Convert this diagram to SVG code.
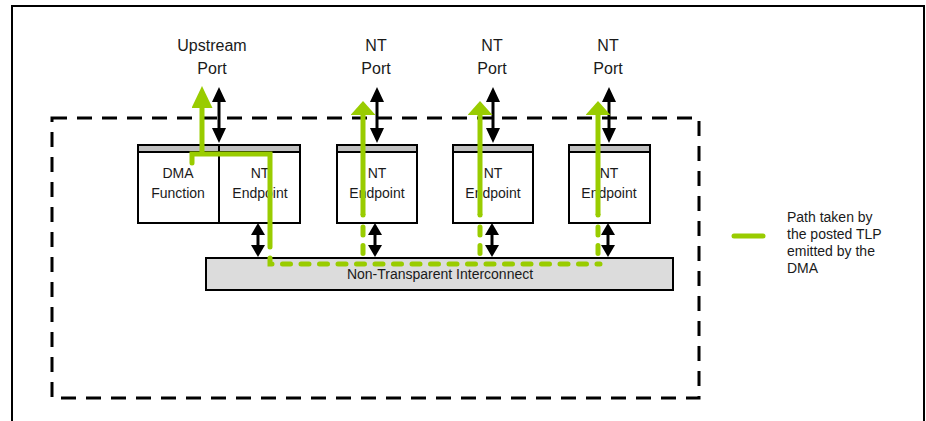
<svg xmlns="http://www.w3.org/2000/svg" width="926" height="421" viewBox="0 0 926 421">
<defs>
<style>
text{font-family:"Liberation Sans",Arial,sans-serif;fill:#1a1a1a;text-anchor:middle}
.lbl{font-size:16px}
.box{font-size:14px}
.leg{font-size:14px;text-anchor:start}
.blk{stroke:#000;stroke-width:3;fill:none}
.g{stroke:#99cc00;stroke-width:5;fill:none;stroke-linecap:round;stroke-linejoin:miter}
.gs{stroke:#99cc00;stroke-width:5;fill:none;stroke-linecap:butt}
.gd{stroke:#99cc00;stroke-width:5;fill:none;stroke-linecap:round;stroke-dasharray:8 10.5}
</style>
<marker id="ah" viewBox="0 0 15 14" refX="3" refY="7" markerWidth="15" markerHeight="14" orient="auto-start-reverse" markerUnits="userSpaceOnUse"><path d="M0,0 L15,7 L0,14 z" fill="#000"/></marker>
<marker id="ah2" viewBox="0 0 12 14" refX="3" refY="7" markerWidth="12" markerHeight="14" orient="auto-start-reverse" markerUnits="userSpaceOnUse"><path d="M0,0 L12,7 L0,14 z" fill="#000"/></marker>
<marker id="gh" viewBox="0 0 14 25" refX="1" refY="12.5" markerWidth="14" markerHeight="25" orient="auto" markerUnits="userSpaceOnUse"><path d="M0,0 L14,12.5 L0,25 z" fill="#99cc00"/></marker>
<marker id="gu" viewBox="0 0 22 21" refX="1" refY="10.5" markerWidth="22" markerHeight="21" orient="auto" markerUnits="userSpaceOnUse"><path d="M0,0 L22,10.5 L0,21 z" fill="#99cc00"/></marker>
</defs>
<rect width="926" height="421" fill="#fff"/>
<path d="M12,421 V6 H924 V421" fill="none" stroke="#000" stroke-width="2"/>
<rect x="52" y="118" width="647" height="280" fill="none" stroke="#000" stroke-width="3" stroke-dasharray="15 10"/>

<g id="upstream-port"><text class="lbl" x="212" y="51">Upstream</text><text class="lbl" x="212" y="74">Port</text></g>
<g id="nt-port-1"><text class="lbl" x="376" y="51">NT</text><text class="lbl" x="376" y="74">Port</text></g>
<g id="nt-port-2"><text class="lbl" x="492" y="51">NT</text><text class="lbl" x="492" y="74">Port</text></g>
<g id="nt-port-3"><text class="lbl" x="608" y="51">NT</text><text class="lbl" x="608" y="74">Port</text></g>

<g id="dma-nt-endpoint">
<rect x="138" y="145" width="162" height="78" fill="#fff" stroke="#000" stroke-width="2"/>
<rect x="138" y="145" width="162" height="7" fill="#c0c0c0" stroke="#000" stroke-width="2"/>
<line x1="219" y1="145" x2="219" y2="223" stroke="#000" stroke-width="2"/>
<text class="box" x="178" y="178">DMA</text><text class="box" x="178" y="198">Function</text>
<text class="box" x="260" y="178">NT</text><text class="box" x="260" y="198">Endpoint</text>
</g>
<g id="nt-endpoint-1">
<rect x="337" y="145" width="80" height="78" fill="#fff" stroke="#000" stroke-width="2"/>
<rect x="337" y="145" width="80" height="7" fill="#c0c0c0" stroke="#000" stroke-width="2"/>
<text class="box" x="377" y="178">NT</text><text class="box" x="377" y="198">Endpoint</text>
</g>
<g id="nt-endpoint-2">
<rect x="453" y="145" width="80" height="78" fill="#fff" stroke="#000" stroke-width="2"/>
<rect x="453" y="145" width="80" height="7" fill="#c0c0c0" stroke="#000" stroke-width="2"/>
<text class="box" x="493" y="178">NT</text><text class="box" x="493" y="198">Endpoint</text>
</g>
<g id="nt-endpoint-3">
<rect x="569" y="145" width="81" height="78" fill="#fff" stroke="#000" stroke-width="2"/>
<rect x="569" y="145" width="81" height="7" fill="#c0c0c0" stroke="#000" stroke-width="2"/>
<text class="box" x="609" y="178">NT</text><text class="box" x="609" y="198">Endpoint</text>
</g>
<g id="interconnect">
<rect x="206" y="258" width="467" height="32" fill="#dcdcdc" stroke="#000" stroke-width="2"/>
<text class="box" x="440" y="279">Non-Transparent Interconnect</text>
</g>
<g id="legend">
<line x1="734" y1="236" x2="763" y2="236" stroke="#99cc00" stroke-width="5" stroke-linecap="round"/>
<text class="leg" x="787" y="222">Path taken by</text>
<text class="leg" x="787" y="239">the posted TLP</text>
<text class="leg" x="787" y="256">emitted by the</text>
<text class="leg" x="787" y="273">DMA</text>
</g>

<g id="connectors">
<line class="blk" x1="219" y1="99" x2="219" y2="131" marker-start="url(#ah)" marker-end="url(#ah)"/>
<line class="blk" x1="377" y1="99" x2="377" y2="131" marker-start="url(#ah)" marker-end="url(#ah)"/>
<line class="blk" x1="493" y1="99" x2="493" y2="131" marker-start="url(#ah)" marker-end="url(#ah)"/>
<line class="blk" x1="609" y1="99" x2="609" y2="131" marker-start="url(#ah)" marker-end="url(#ah)"/>
<line class="blk" x1="258" y1="232" x2="258" y2="248" marker-start="url(#ah2)" marker-end="url(#ah2)"/>
<line class="blk" x1="375" y1="232" x2="375" y2="248" marker-start="url(#ah2)" marker-end="url(#ah2)"/>
<line class="blk" x1="492" y1="232" x2="492" y2="248" marker-start="url(#ah2)" marker-end="url(#ah2)"/>
<line class="blk" x1="608" y1="232" x2="608" y2="248" marker-start="url(#ah2)" marker-end="url(#ah2)"/>

<path class="g" d="M192,163 V154 H270 V247"/>
<line class="gs" x1="202" y1="154" x2="202" y2="107" marker-end="url(#gu)"/>
<path class="gd" d="M270,258 V264 H600"/>
<line class="gs" x1="363" y1="215" x2="363" y2="114" marker-end="url(#gh)"/>
<line class="gs" x1="480" y1="215" x2="480" y2="114" marker-end="url(#gh)"/>
<line class="gs" x1="598" y1="215" x2="598" y2="114" marker-end="url(#gh)"/>
<circle cx="363" cy="215" r="2.5" fill="#99cc00"/><circle cx="480" cy="215" r="2.5" fill="#99cc00"/><circle cx="598" cy="215" r="2.5" fill="#99cc00"/>
<line class="gd" x1="363" y1="227" x2="363" y2="264"/>
<line class="gd" x1="480" y1="227" x2="480" y2="264"/>
<line class="gd" x1="598" y1="227" x2="598" y2="264"/>
</g>
</svg>
